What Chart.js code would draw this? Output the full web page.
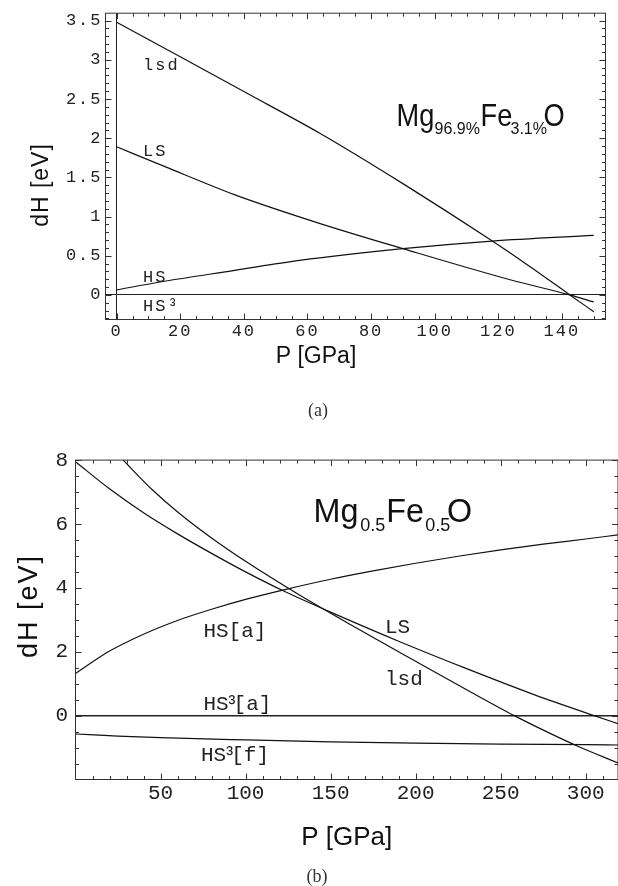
<!DOCTYPE html>
<html>
<head>
<meta charset="utf-8">
<title>dH vs P</title>
<script src="https://cdn.jsdelivr.net/npm/chart.js@4.4.0/dist/chart.umd.min.js"></script>
<style>
  html, body { margin: 0; padding: 0; background: #fff; }
  #wrap { position: relative; width: 618px; height: 886px; overflow: hidden; }
  canvas { position: absolute; left: 0; }
  #cA { top: 0; }
  #cB { top: 440px; }
  .cap { position: absolute; font-family: "Liberation Serif", serif; font-size: 18px; color: #333;
         transform: translate(-50%, -50%); white-space: nowrap; }
</style>
</head>
<body>
<div id="wrap">
  <canvas id="cA" width="618" height="440"></canvas>
  <canvas id="cB" width="618" height="446"></canvas>
  <div class="cap" style="left:318px; top:410px">(a)</div>
  <div class="cap" style="left:317px; top:876px">(b)</div>
</div>
<script>
// ---- panel (a): Mg96.9%Fe3.1%O ----
const aLsdP = [0, 20, 40, 64, 90, 118, 130, 142.5, 150];
const aLsdH = [3.48, 3.04, 2.595, 2.06, 1.42, 0.69, 0.36, 0, -0.215];
const aLsP = [0, 15, 37, 64, 90, 124, 142.5, 150];
const aLsH = [1.89, 1.64, 1.28, 0.91, 0.59, 0.19, 0, -0.09];
const aHsP = [0, 13.6, 36.7, 57.5, 90, 118, 150];
const aHsH = [0.063, 0.165, 0.31, 0.44, 0.59, 0.687, 0.76];

const aXTicks = [0, 20, 40, 60, 80, 100, 120, 140];
const aXLabels = ['0', '20', '40', '60', '80', '100', '120', '140'];
const aYTicks = [0, 0.5, 1, 1.5, 2, 2.5, 3, 3.5];
const aYLabels = ['0', '0.5', '1', '1.5', '2', '2.5', '3', '3.5'];

const aCurveText = ['lsd', 'LS', 'HS', 'HS³'];
const aCurveP = [8.3, 8.3, 8.3, 8.3];
const aCurveH = [2.87, 1.77, 0.16, -0.21];

const aFormula = ['Mg', '96.9%', 'Fe', '3.1%', 'O'];
const aFormulaSub = [false, true, false, true, false];

// ---- panel (b): Mg0.5Fe0.5O ----
const bLsP = [0, 20, 40, 60, 80, 100, 124, 150, 190, 230, 270, 305, 319];
const bLsH = [7.95, 7.10, 6.35, 5.69, 5.08, 4.50, 3.86, 3.24, 2.33, 1.47, 0.65, 0, -0.25];
const bLsdP = [28, 45, 61.5, 80, 100, 130, 160, 200, 230, 258, 280, 295, 319];
const bLsdH = [8.0, 7.08, 6.31, 5.56, 4.83, 3.83, 2.90, 1.70, 0.81, 0, -0.58, -0.95, -1.48];
const bHsP = [0, 20, 40, 60, 80, 100, 125, 150, 175, 200, 225, 250, 275, 300, 319];
const bHsH = [1.32, 2.02, 2.55, 2.98, 3.33, 3.64, 3.97, 4.27, 4.53, 4.77, 4.99, 5.19, 5.37, 5.53, 5.66];
const bHs3fP = [0, 25, 50, 100, 150, 200, 250, 300, 319];
const bHs3fH = [-0.575, -0.64, -0.69, -0.76, -0.82, -0.86, -0.89, -0.91, -0.92];

const bXTicks = [50, 100, 150, 200, 250, 300];
const bXLabels = ['50', '100', '150', '200', '250', '300'];
const bYTicks = [0, 2, 4, 6, 8];
const bYLabels = ['0', '2', '4', '6', '8'];

const bCurveText = ['HS[a]', 'HS³[a]', 'HS³[f]', 'LS', 'lsd'];
const bCurveP = [75.2, 75.2, 73.8, 182, 182];
const bCurveH = [2.45, 0.17, -1.42, 2.6, 0.96];

const bFormula = ['Mg', '0.5', 'Fe', '0.5', 'O'];
const bFormulaSub = [false, true, false, true, false];

// minor tick helper
function range(from, to, step) {
    const out = [];
    for (let v = from; v <= to + 1e-9; v += step) out.push(Math.round(v * 1000) / 1000);
    return out;
}

function pts(px, hy) {
    return px.map((p, i) => ({x: p, y: hy[i]}));
}

function curve(data) {
    return {
        data: data,
        showLine: true,
        borderColor: '#111',
        borderWidth: 1.2,
        pointRadius: 0,
        cubicInterpolationMode: 'monotone',
        fill: false
    };
}

// frame, inward ticks, labels and titles
const framePlugin = {
    id: 'frame',
    beforeDraw(chart, args, o) {
        chart.ctx.letterSpacing = o.spacing;
    },
    afterDraw(chart, args, o) {
        const ctx = chart.ctx;
        const a = chart.chartArea;
        const x = chart.scales.x, y = chart.scales.y;
        ctx.save();
        ctx.letterSpacing = '0px';
        ctx.strokeStyle = '#333';
        ctx.lineWidth = 1;
        ctx.strokeRect(a.left, a.top, a.right - a.left, a.bottom - a.top);

        ctx.beginPath();
        const xt = (vals, len) => vals.forEach(v => {
            const px = Math.round(x.getPixelForValue(v)) + 0.5;
            if (px < a.left || px > a.right) return;
            ctx.moveTo(px, a.bottom); ctx.lineTo(px, a.bottom - len);
            ctx.moveTo(px, a.top); ctx.lineTo(px, a.top + len);
        });
        const yt = (vals, len) => vals.forEach(v => {
            const py = Math.round(y.getPixelForValue(v)) + 0.5;
            if (py < a.top || py > a.bottom) return;
            ctx.moveTo(a.left, py); ctx.lineTo(a.left + len, py);
            ctx.moveTo(a.right, py); ctx.lineTo(a.right - len, py);
        });
        xt(o.xMajor, 6); xt(o.xMinor, 3.5);
        yt(o.yMajor, 6); yt(o.yMinor, 3.5);
        ctx.stroke();

        // curve labels
        ctx.fillStyle = '#222';
        ctx.textAlign = 'left';
        ctx.textBaseline = 'alphabetic';
        ctx.font = o.labelFont;
        ctx.letterSpacing = o.spacing;
        o.curveText.forEach((t, i) => {
            const lx = x.getPixelForValue(o.curveP[i]);
            const ly = y.getPixelForValue(o.curveH[i]);
            if (o.tightSup && t.includes('³')) {
                // superscript squeezed in after the S, like the original
                const [pre, post] = t.split('³');
                const w = ctx.measureText(pre).width;
                ctx.fillText(pre, lx, ly);
                ctx.fillText('³', lx + w - 3, ly);
                ctx.fillText(post, lx + w + 5, ly);
            } else {
                ctx.fillText(t, lx, ly);
            }
        });
        ctx.letterSpacing = '0px';

        // compound name with subscripts
        const fx = x.getPixelForValue(o.formulaAt[0]);
        const fy = y.getPixelForValue(o.formulaAt[1]);
        ctx.fillStyle = '#111';
        o.formula.forEach((t, i) => {
            const sub = o.formulaSub[i];
            ctx.save();
            ctx.translate(fx + o.formulaDx[i], fy + (sub ? o.subDrop : 0));
            if (!sub) ctx.scale(o.squeeze, 1);
            ctx.font = (sub ? o.subSize : o.mainSize) + 'px "Liberation Sans", Arial, sans-serif';
            ctx.fillText(t, 0, 0);
            ctx.restore();
        });

        // axis titles
        ctx.fillStyle = '#111';
        ctx.textAlign = 'center';
        ctx.textBaseline = 'middle';
        o.titles.forEach(t => {
            ctx.save();
            ctx.translate(t.cx, t.cy);
            if (t.rot) ctx.rotate(-Math.PI / 2);
            ctx.font = t.font;
            ctx.letterSpacing = t.sp || '0px';
            ctx.fillText(t.text, 0, 0);
            ctx.restore();
        });
        ctx.restore();
    }
};

function axisX(min, max, ticks, labels, height, font, pad) {
    return {
        type: 'linear', min: min, max: max,
        afterFit(s) { s.height = height; },
        afterBuildTicks(s) { s.ticks = ticks.map(v => ({value: v})); },
        ticks: {callback: (v, i) => labels[i], font: font, color: '#222', padding: pad, maxRotation: 0, autoSkip: false},
        grid: {drawTicks: false, lineWidth: 1, color: c => (c.tick && c.tick.value === 0) ? '#222' : 'rgba(0,0,0,0)'},
        border: {display: false}
    };
}

function axisY(min, max, ticks, labels, width, font, pad, zeroWidth) {
    return {
        type: 'linear', min: min, max: max,
        afterFit(s) { s.width = width; },
        afterBuildTicks(s) { s.ticks = ticks.map(v => ({value: v})); },
        ticks: {callback: (v, i) => labels[i], font: font, color: '#222', padding: pad, autoSkip: false},
        grid: {drawTicks: false, lineWidth: zeroWidth, color: c => (c.tick && c.tick.value === 0) ? '#222' : 'rgba(0,0,0,0)'},
        border: {display: false}
    };
}

const monoA = {family: '"Liberation Mono", "Courier New", monospace', size: 17};
const monoB = {family: '"Liberation Mono", "Courier New", monospace', size: 21};

// 图 (a)
new Chart(document.getElementById('cA').getContext('2d'), {
    type: 'scatter',
    data: {datasets: [curve(pts(aLsdP, aLsdH)), curve(pts(aLsP, aLsH)), curve(pts(aHsP, aHsH))]},
    options: {
        responsive: false,
        animation: false,
        layout: {padding: {top: 10.5, right: 12.5, left: 0, bottom: 0}},
        plugins: {
            legend: {display: false},
            tooltip: {enabled: false},
            frame: {
                spacing: '2px',
                xMajor: aXTicks, xMinor: range(5, 150, 5).filter(v => v % 20 !== 0),
                yMajor: aYTicks, yMinor: range(-0.3, 3.5, 0.1).filter(v => Math.abs(v * 2 - Math.round(v * 2)) > 1e-6),
                labelFont: '17px "Liberation Mono", "Courier New", monospace',
                curveText: aCurveText, curveP: aCurveP, curveH: aCurveH,
                formula: aFormula, formulaSub: aFormulaSub, formulaAt: [88, 2.15],
                formulaDx: [0, 38, 84, 114, 147], subDrop: 8, squeeze: 0.85, mainSize: 32, subSize: 16,
                titles: [
                    {text: 'P [GPa]', cx: 316, cy: 357, font: '23px "Liberation Sans", Arial, sans-serif'},
                    {text: 'dH [eV]', cx: 41.7, cy: 185, rot: true, font: '23px "Liberation Sans", Arial, sans-serif', sp: '1px'}
                ]
            }
        },
        scales: {
            x: axisX(-3.5, 153.7, aXTicks, aXLabels, 120.5, monoA, 2),
            y: axisY(-0.314, 3.595, aYTicks, aYLabels, 105.5, monoA, 3, 1)
        }
    },
    plugins: [framePlugin]
});

// 图 (b)
new Chart(document.getElementById('cB').getContext('2d'), {
    type: 'scatter',
    data: {datasets: [curve(pts(bLsP, bLsH)), curve(pts(bLsdP, bLsdH)), curve(pts(bHsP, bHsH)), curve(pts(bHs3fP, bHs3fH))]},
    options: {
        responsive: false,
        animation: false,
        layout: {padding: {top: 3.5, right: 0, left: 0, bottom: 0}},
        plugins: {
            legend: {display: false},
            tooltip: {enabled: false},
            frame: {
                spacing: '0px',
                tightSup: true,
                xMajor: bXTicks, xMinor: range(10, 310, 10).filter(v => v % 50 !== 0),
                yMajor: bYTicks, yMinor: range(-2, 8, 0.5).filter(v => v % 2 !== 0),
                labelFont: '21px "Liberation Mono", "Courier New", monospace',
                curveText: bCurveText, curveP: bCurveP, curveH: bCurveH,
                formula: bFormula, formulaSub: bFormulaSub, formulaAt: [140, 6.07],
                formulaDx: [0, 46.7, 72.7, 111.7, 133.4], subDrop: 9, squeeze: 0.95, mainSize: 34, subSize: 18,
                titles: [
                    {text: 'P [GPa]', cx: 346.7, cy: 398, font: '26px "Liberation Sans", Arial, sans-serif'},
                    {text: 'dH [eV]', cx: 30, cy: 166, rot: true, font: '27px "Liberation Sans", Arial, sans-serif', sp: '2px'}
                ]
            }
        },
        scales: {
            x: axisX(0, 319, bXTicks, bXLabels, 106.5, monoB, 1.5),
            y: axisY(-2, 8, bYTicks, bYLabels, 75.5, monoB, 7.5, 1.5)
        }
    },
    plugins: [framePlugin]
});
</script>
</body>
</html>
